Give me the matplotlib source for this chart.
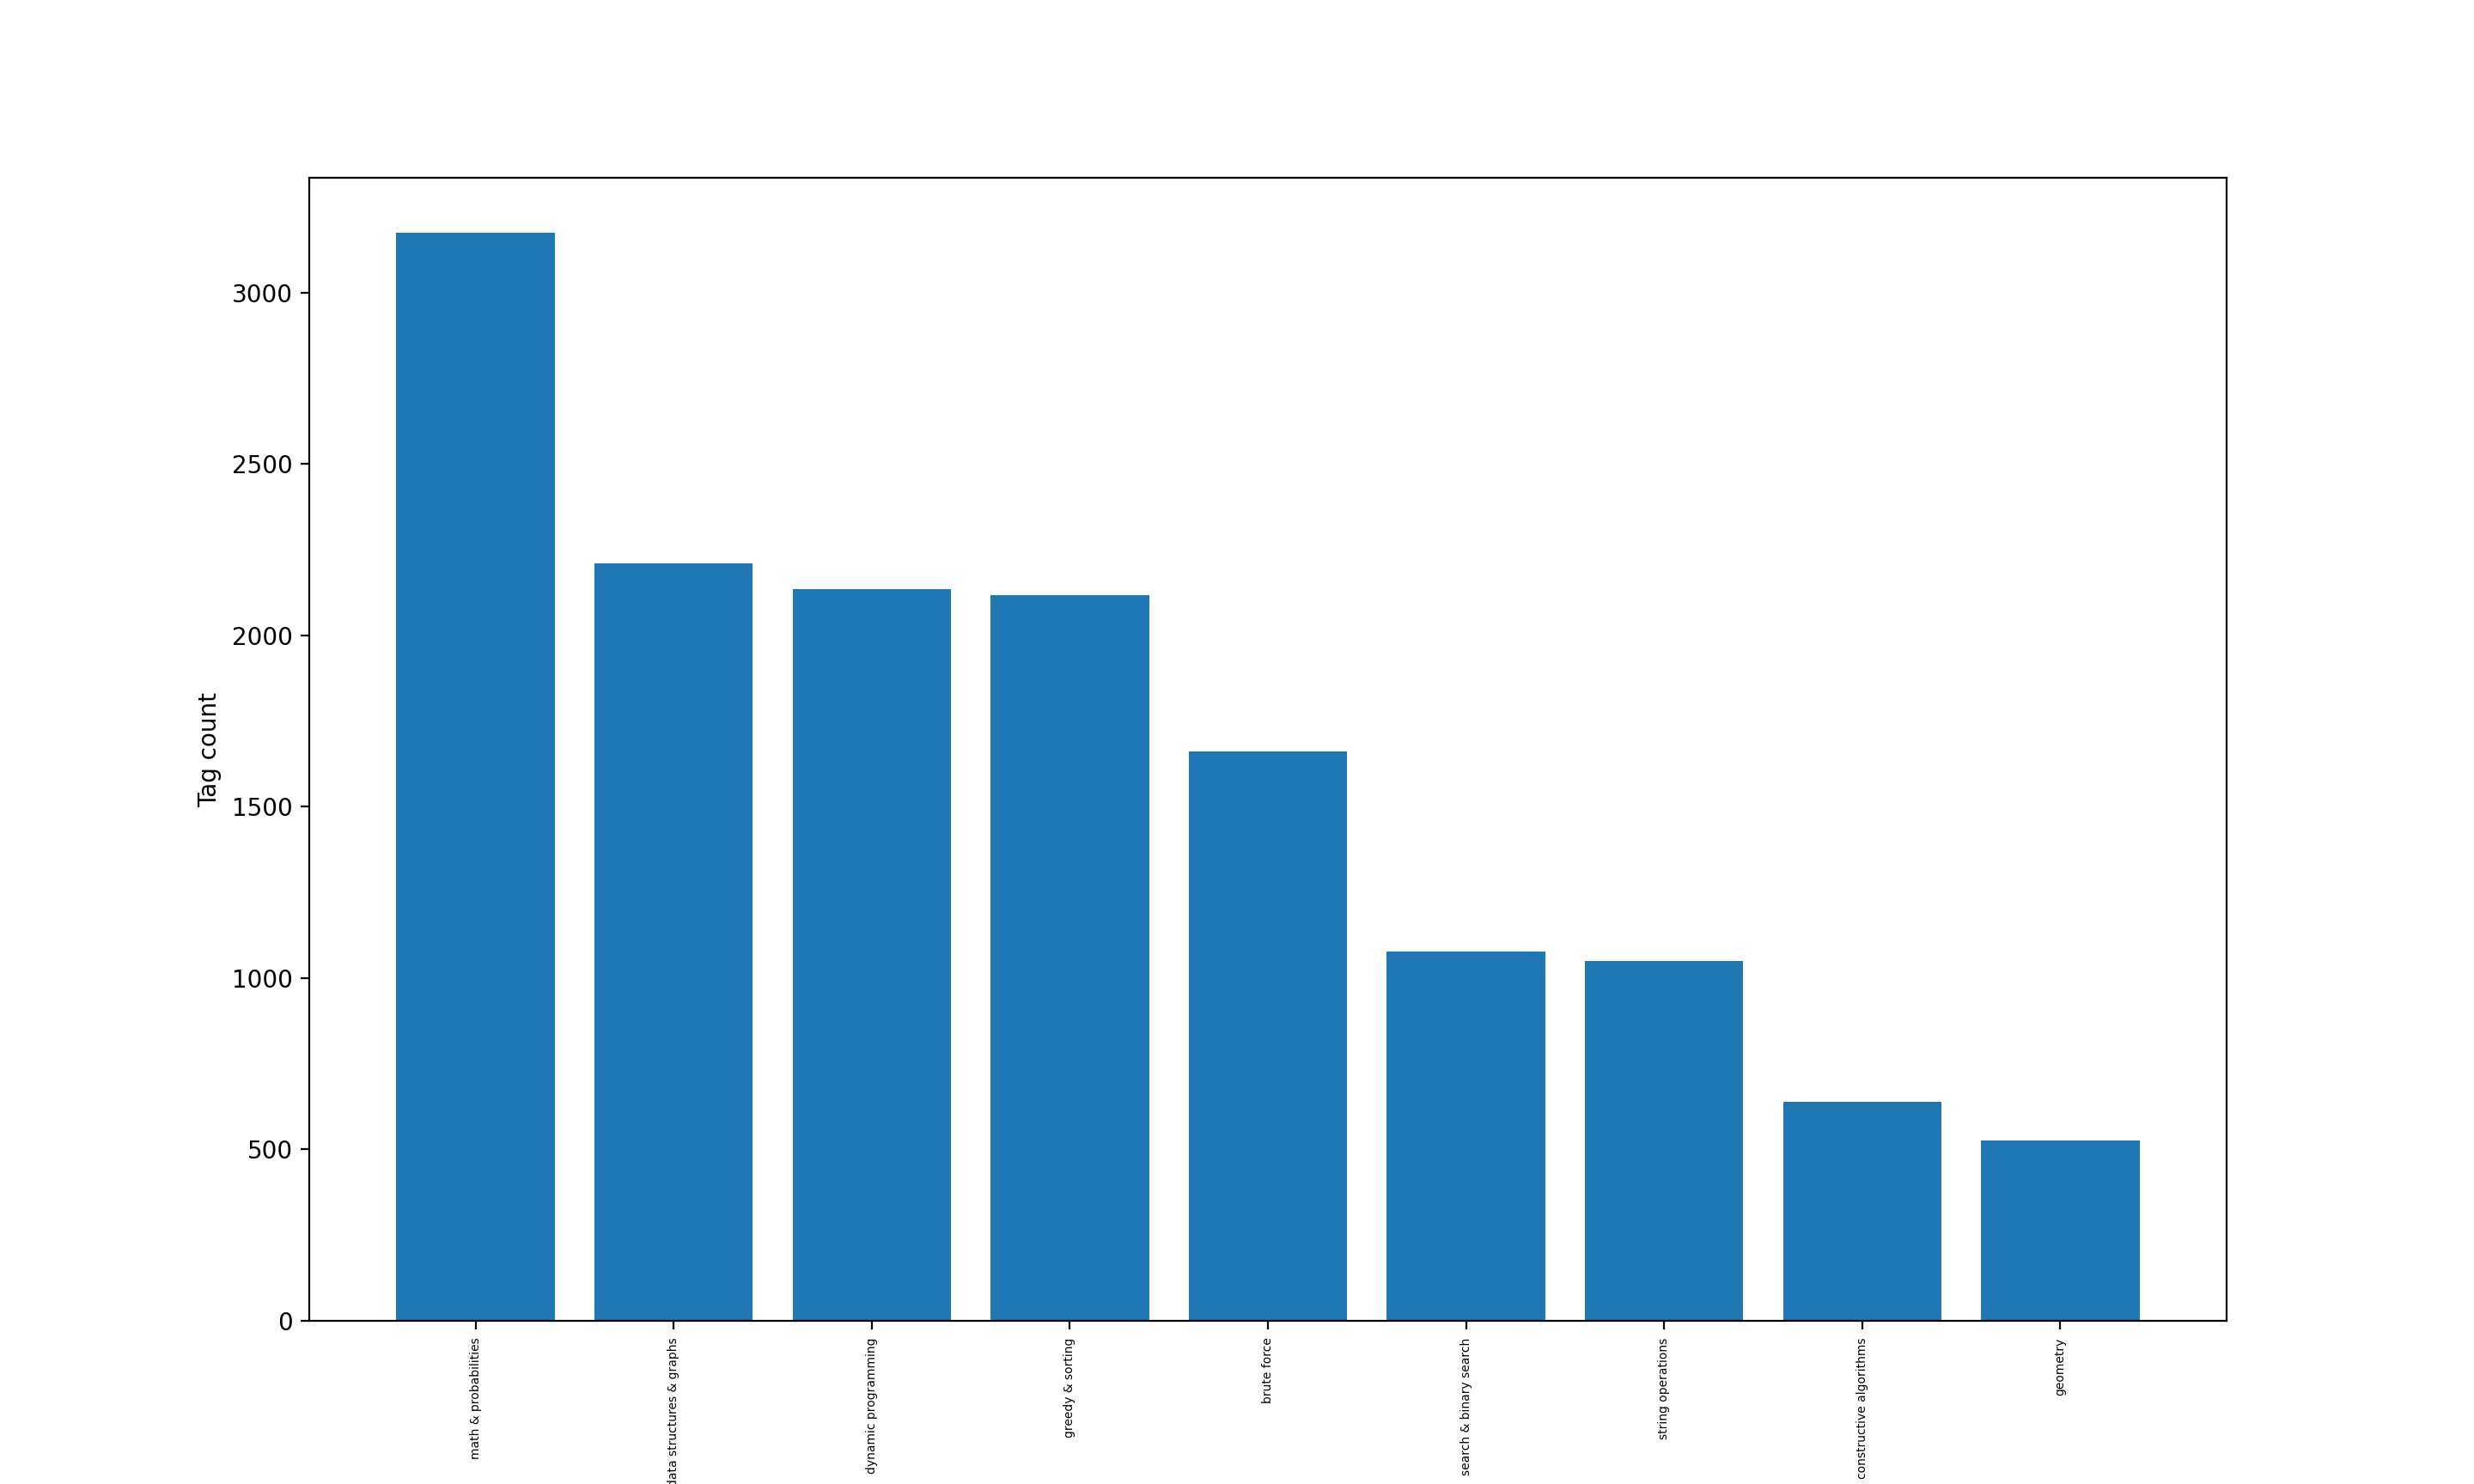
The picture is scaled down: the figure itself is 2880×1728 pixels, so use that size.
import matplotlib
matplotlib.use('Agg')
import matplotlib.pyplot as plt

tags = ['math & probabilities', 'data structures & graphs', 'dynamic programming',
        'greedy & sorting', 'brute force', 'search & binary search',
        'string operations', 'constructive algorithms', 'geometry']
counts = [3175, 2210, 2135, 2117, 1661, 1077, 1049, 638, 526]

# 2880x1728 at 200 dpi
fig = plt.figure(figsize=(14.4, 8.64))
ax = fig.add_subplot(1, 1, 1)
ax.bar(tags, counts)
ax.set_ylabel('Tag count')
ax.tick_params(axis='x', labelsize=5, labelrotation=90)

fig.savefig('out.png', dpi=200)
plt.close()
